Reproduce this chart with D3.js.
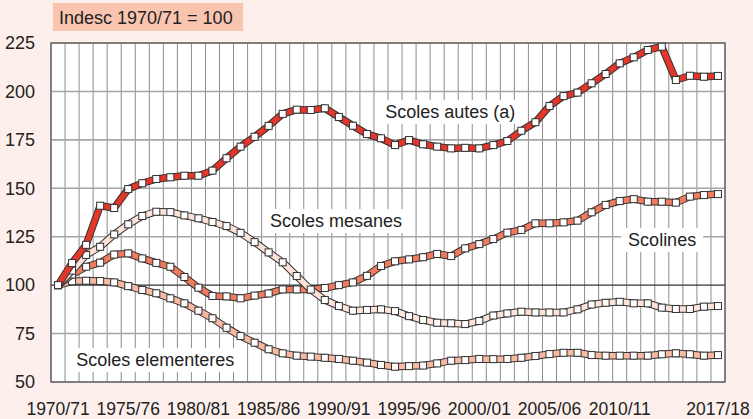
<!DOCTYPE html>
<html>
<head>
<meta charset="utf-8">
<script src="https://cdn.jsdelivr.net/npm/d3@7"></script>
<style>
	body { margin: 0; background: #fdf0ec; }
	svg { display: block; font-family: "Liberation Sans", Arial, sans-serif; }
</style>
</head>
<body>
<svg id="chart"></svg>
<script>
// school years, one band each
var years = ["1970/71", "1971/72", "1972/73", "1973/74", "1974/75", "1975/76", "1976/77", "1977/78",
	"1978/79", "1979/80", "1980/81", "1981/82", "1982/83", "1983/84", "1984/85", "1985/86",
	"1986/87", "1987/88", "1988/89", "1989/90", "1990/91", "1991/92", "1992/93", "1993/94",
	"1994/95", "1995/96", "1996/97", "1997/98", "1998/99", "1999/00", "2000/01", "2001/02",
	"2002/03", "2003/04", "2004/05", "2005/06", "2006/07", "2007/08", "2008/09", "2009/10",
	"2010/11", "2011/12", "2012/13", "2013/14", "2014/15", "2015/16", "2016/17", "2017/18"];

var tickYears = ["1970/71", "1975/76", "1980/81", "1985/86", "1990/91", "1995/96", "2000/01", "2005/06", "2010/11", "2017/18"];
var yTicks = [50, 75, 100, 125, 150, 175, 200, 225];

var autes = [100, 111.4, 120.8, 141, 139.8, 149.6, 152.6, 154.8, 155.7, 156.5, 156.5, 159.1, 165.5, 171.5, 176.6, 182.2,
	188.4, 190.6, 190.4, 191.3, 186.8, 182.3, 178, 175.8, 172.3, 174.9, 172.7, 171.5, 170.6, 170.9, 170.6, 172.3,
	174.4, 179.7, 184.1, 192.5, 197.6, 199.4, 204.2, 209, 214.5, 217.6, 221.4, 223.1, 205.9, 208.1, 207.6, 208];
var scolines = [100, 105.5, 109.5, 111.6, 115.8, 116.4, 113.8, 111.5, 109.5, 104.2, 98.7, 94.4, 94.2, 93.2, 94.6, 95.7,
	97.8, 97.8, 97.8, 98.5, 100, 101.4, 104.8, 109.9, 112.3, 113.3, 114.4, 116.1, 115, 119, 121.2, 123.8,
	127.1, 128.5, 131.9, 131.9, 132.4, 133.3, 137.6, 141.4, 143.4, 144.4, 143.1, 143.1, 142.6, 145.7, 146.5, 147];
var mesanes = [100, 107.5, 115.6, 119.8, 126.2, 131.4, 135.7, 137.9, 137.7, 136, 134.5, 132.6, 130.5, 127, 122.2, 116.9,
	111.8, 104.7, 97.7, 92.3, 89.2, 86.8, 87.2, 87.5, 86.6, 84, 82, 80.6, 80.3, 79.9, 81.5, 84.3,
	85.4, 86.3, 85.9, 85.9, 85.9, 87.5, 90, 90.9, 91.4, 90.6, 90.6, 88.4, 87.7, 87.7, 88.9, 89.2];
var elementeres = [100, 102, 102.3, 102.1, 101.4, 99.5, 97.5, 95.8, 93.2, 90.6, 86.8, 82.9, 78, 73.7, 70.3, 66.9,
	64.8, 63.6, 63.1, 62.5, 61.9, 61, 60, 58.8, 57.9, 58.2, 58.5, 59.6, 61, 61.3, 61.9, 61.8,
	61.9, 62.5, 63.4, 64.4, 65.1, 65.1, 63.9, 63.6, 63.6, 63.6, 63.6, 64.3, 64.8, 64.3, 63.6, 63.9];

// series names and colours, drawn bottom to top
var seriesNames = ["Scoles elementeres", "Scolines", "Scoles mesanes", "Scoles autes (a)"];
var seriesValues = [elementeres, scolines, mesanes, autes];
var seriesColors = ["#f8b9a2", "#f07b5e", "#fde2d8", "#e6352a"];

// label anchors in data units: left edge at band position, vertical centre at value
var labelNames = ["Scoles autes (a)", "Scoles mesanes", "Scolines", "Scoles elementeres"];
var labelBand = [23.8, 15.6, 41.1, 1.8];
var labelValue = [189.4, 133.1, 123.3, 61.3];

const width = 753;
const height = 419;
const margin = { top: 43, right: 28, bottom: 37, left: 51 };

var svg = d3.select("#chart").attr("width", width).attr("height", height);

svg.append("rect").attr("width", width).attr("height", height).attr("fill", "#fdf0ec");

var x = d3.scaleBand()
	.domain(years)
	.range([margin.left, width - margin.right]);

var y = d3.scaleLinear()
	.domain([50, 225])
	.range([height - margin.bottom, margin.top]);

var bw = x.bandwidth();
var cx = function (d) { return x(d) + bw / 2; };

// plot area
svg.append("rect")
	.attr("x", margin.left)
	.attr("y", margin.top)
	.attr("width", width - margin.left - margin.right)
	.attr("height", height - margin.top - margin.bottom)
	.attr("fill", "white");

// vertical grid at band edges
var edges = years.map(function (d) { return x(d); }).concat([width - margin.right]);
svg.append("g")
	.selectAll("line")
	.data(edges)
	.enter()
	.append("line")
	.attr("x1", function (d) { return d; })
	.attr("x2", function (d) { return d; })
	.attr("y1", margin.top)
	.attr("y2", height - margin.bottom)
	.attr("stroke", "#8c8c8c")
	.attr("stroke-width", 1);

// horizontal grid
svg.append("g")
	.selectAll("line")
	.data(yTicks)
	.enter()
	.append("line")
	.attr("x1", margin.left)
	.attr("x2", width - margin.right)
	.attr("y1", function (d) { return y(d); })
	.attr("y2", function (d) { return y(d); })
	.attr("stroke", function (d) { return d == 100 ? "#333" : "#a6a6a6"; })
	.attr("stroke-width", function (d) { return d == 100 ? 1.2 : 1.6; });

// border
svg.append("rect")
	.attr("x", margin.left)
	.attr("y", margin.top)
	.attr("width", width - margin.left - margin.right)
	.attr("height", height - margin.top - margin.bottom)
	.attr("fill", "none")
	.attr("stroke", "#555")
	.attr("stroke-width", 1.2);

// y axis labels
var yAxis = svg.append("g")
	.attr("transform", "translate(" + (margin.left - 16) + ",0)")
	.call(d3.axisLeft(y).tickValues(yTicks).tickSize(0).tickPadding(0));
yAxis.select(".domain").remove();
yAxis.selectAll("text").attr("font-size", 18).attr("fill", "#222").attr("font-family", "Liberation Sans, Arial, sans-serif");

// x axis labels
var xAxis = svg.append("g")
	.attr("transform", "translate(0," + (height - margin.bottom) + ")")
	.call(d3.axisBottom(x).tickValues(tickYears).tickSize(0).tickPadding(21));
xAxis.select(".domain").remove();
xAxis.selectAll("text").attr("font-size", 17.5).attr("fill", "#222").attr("font-family", "Liberation Sans, Arial, sans-serif");

// labels with white boxes
labelNames.forEach(function (name, i) {
	var lx = margin.left + labelBand[i] * bw;
	var ly = y(labelValue[i]);
	var g = svg.append("g");
	var t = g.append("text")
		.attr("x", lx)
		.attr("y", ly)
		.attr("dy", "0.35em")
		.attr("font-size", 18)
		.attr("fill", "#222")
		.text(name);
	var bb = t.node().getBBox();
	g.insert("rect", "text")
		.attr("x", bb.x - 7)
		.attr("y", ly - 12)
		.attr("width", bb.width + 14)
		.attr("height", 24)
		.attr("fill", "white");
});

// series lines and markers
var line = d3.line()
	.x(function (d, i) { return cx(years[i]); })
	.y(function (d) { return y(d); });

seriesValues.forEach(function (vals, s) {
	var g = svg.append("g").attr("class", "series");
	g.append("path")
		.attr("d", line(vals))
		.attr("fill", "none")
		.attr("stroke", "#333")
		.attr("stroke-width", 7.5)
		.attr("stroke-linejoin", "round");
	g.append("path")
		.attr("d", line(vals))
		.attr("fill", "none")
		.attr("stroke", seriesColors[s])
		.attr("stroke-width", 5.5)
		.attr("stroke-linejoin", "round");
	g.selectAll("rect")
		.data(vals)
		.enter()
		.append("rect")
		.attr("x", function (d, i) { return cx(years[i]) - 3.5; })
		.attr("y", function (d) { return y(d) - 3.5; })
		.attr("width", 7)
		.attr("height", 7)
		.attr("fill", "white")
		.attr("stroke", "#333")
		.attr("stroke-width", 1);
});

// title box
var title = svg.append("g");
title.append("rect")
	.attr("x", 53)
	.attr("y", 3)
	.attr("width", 190)
	.attr("height", 28)
	.attr("fill", "#f9c5b0");
title.append("text")
	.attr("x", 59)
	.attr("y", 24)
	.attr("font-size", 18)
	.attr("fill", "#222")
	.text("Indesc 1970/71 = 100");
</script>
</body>
</html>
